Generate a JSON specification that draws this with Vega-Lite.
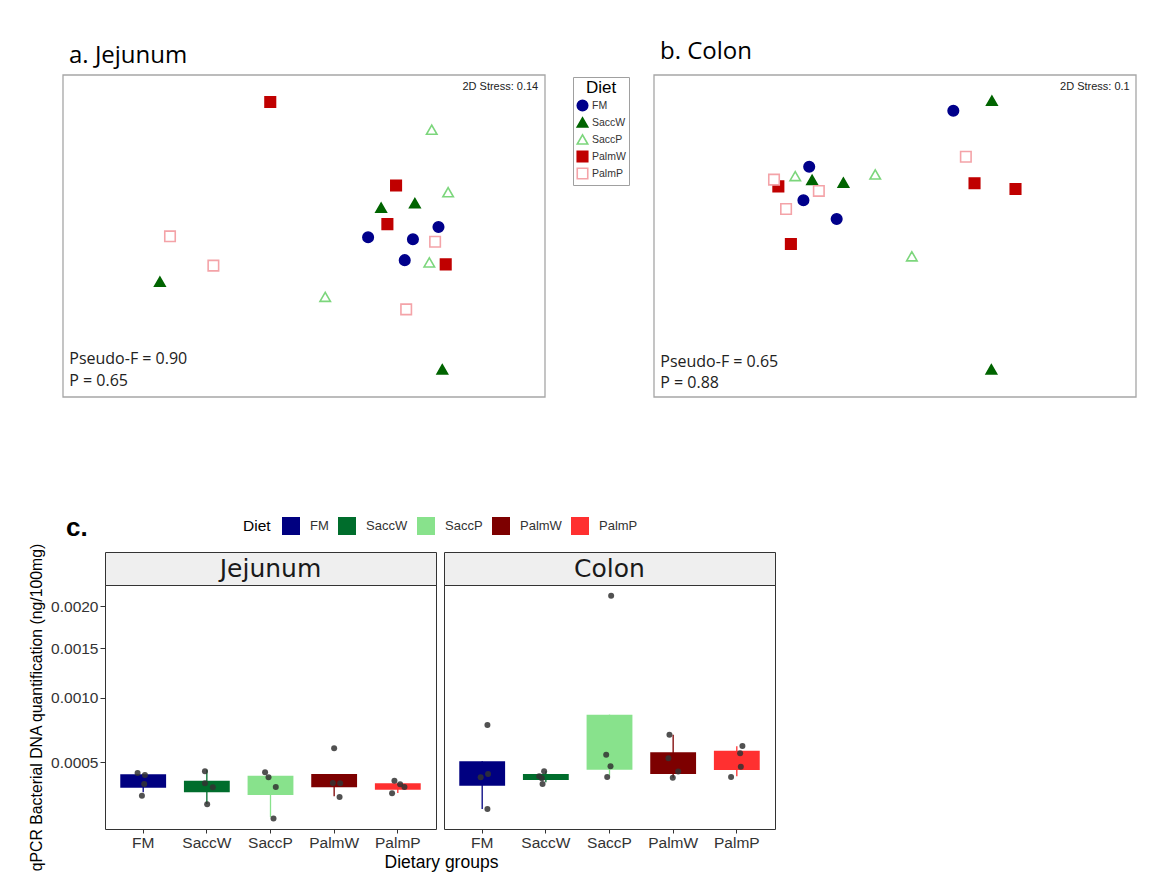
{
  "$schema": "https://vega.github.io/schema/vega-lite/v6.json",
  "background": "white",
  "padding": {"left": 28, "top": 40, "right": 5, "bottom": 5},
  "config": {"font": "Liberation Sans", "view": {"stroke": null}, "axis": {"grid": false}},
  "datasets": {
    "nmds": [
      {"tissue": "Jejunum", "Diet": "PalmW", "NMDS1": 0.430, "NMDS2": 0.916},
      {"tissue": "Jejunum", "Diet": "SaccP", "NMDS1": 0.765, "NMDS2": 0.830},
      {"tissue": "Jejunum", "Diet": "PalmW", "NMDS1": 0.691, "NMDS2": 0.657},
      {"tissue": "Jejunum", "Diet": "SaccP", "NMDS1": 0.799, "NMDS2": 0.636},
      {"tissue": "Jejunum", "Diet": "SaccW", "NMDS1": 0.660, "NMDS2": 0.588},
      {"tissue": "Jejunum", "Diet": "SaccW", "NMDS1": 0.730, "NMDS2": 0.602},
      {"tissue": "Jejunum", "Diet": "PalmW", "NMDS1": 0.673, "NMDS2": 0.537},
      {"tissue": "Jejunum", "Diet": "FM", "NMDS1": 0.779, "NMDS2": 0.528},
      {"tissue": "Jejunum", "Diet": "FM", "NMDS1": 0.633, "NMDS2": 0.496},
      {"tissue": "Jejunum", "Diet": "FM", "NMDS1": 0.726, "NMDS2": 0.490},
      {"tissue": "Jejunum", "Diet": "PalmP", "NMDS1": 0.772, "NMDS2": 0.482},
      {"tissue": "Jejunum", "Diet": "FM", "NMDS1": 0.709, "NMDS2": 0.425},
      {"tissue": "Jejunum", "Diet": "SaccP", "NMDS1": 0.760, "NMDS2": 0.418},
      {"tissue": "Jejunum", "Diet": "PalmW", "NMDS1": 0.794, "NMDS2": 0.412},
      {"tissue": "Jejunum", "Diet": "PalmP", "NMDS1": 0.222, "NMDS2": 0.499},
      {"tissue": "Jejunum", "Diet": "PalmP", "NMDS1": 0.312, "NMDS2": 0.408},
      {"tissue": "Jejunum", "Diet": "SaccW", "NMDS1": 0.201, "NMDS2": 0.358},
      {"tissue": "Jejunum", "Diet": "SaccP", "NMDS1": 0.544, "NMDS2": 0.311},
      {"tissue": "Jejunum", "Diet": "PalmP", "NMDS1": 0.712, "NMDS2": 0.272},
      {"tissue": "Jejunum", "Diet": "SaccW", "NMDS1": 0.787, "NMDS2": 0.086},
      {"tissue": "Colon", "Diet": "FM", "NMDS1": 0.621, "NMDS2": 0.889},
      {"tissue": "Colon", "Diet": "FM", "NMDS1": 0.322, "NMDS2": 0.715},
      {"tissue": "Colon", "Diet": "FM", "NMDS1": 0.310, "NMDS2": 0.611},
      {"tissue": "Colon", "Diet": "FM", "NMDS1": 0.379, "NMDS2": 0.553},
      {"tissue": "Colon", "Diet": "SaccW", "NMDS1": 0.701, "NMDS2": 0.920},
      {"tissue": "Colon", "Diet": "SaccW", "NMDS1": 0.328, "NMDS2": 0.674},
      {"tissue": "Colon", "Diet": "SaccW", "NMDS1": 0.393, "NMDS2": 0.666},
      {"tissue": "Colon", "Diet": "SaccW", "NMDS1": 0.700, "NMDS2": 0.086},
      {"tissue": "Colon", "Diet": "SaccP", "NMDS1": 0.293, "NMDS2": 0.686},
      {"tissue": "Colon", "Diet": "SaccP", "NMDS1": 0.459, "NMDS2": 0.691},
      {"tissue": "Colon", "Diet": "SaccP", "NMDS1": 0.535, "NMDS2": 0.437},
      {"tissue": "Colon", "Diet": "PalmW", "NMDS1": 0.258, "NMDS2": 0.654},
      {"tissue": "Colon", "Diet": "PalmW", "NMDS1": 0.665, "NMDS2": 0.664},
      {"tissue": "Colon", "Diet": "PalmW", "NMDS1": 0.750, "NMDS2": 0.646},
      {"tissue": "Colon", "Diet": "PalmW", "NMDS1": 0.284, "NMDS2": 0.475},
      {"tissue": "Colon", "Diet": "PalmP", "NMDS1": 0.249, "NMDS2": 0.675},
      {"tissue": "Colon", "Diet": "PalmP", "NMDS1": 0.342, "NMDS2": 0.640},
      {"tissue": "Colon", "Diet": "PalmP", "NMDS1": 0.274, "NMDS2": 0.584},
      {"tissue": "Colon", "Diet": "PalmP", "NMDS1": 0.647, "NMDS2": 0.746}
    ],
    "nmdsStats": [
      {"tissue": "Jejunum", "stress": "2D Stress: 0.14", "pseudoF": "Pseudo-F = 0.90", "p": "P = 0.65"},
      {"tissue": "Colon", "stress": "2D Stress: 0.1", "pseudoF": "Pseudo-F = 0.65", "p": "P = 0.88"}
    ],
    "boxes": [
      {"tissue": "Jejunum", "Diet": "FM", "lower": 0.000326, "q1": 0.000350, "q3": 0.000426, "upper": 0.000426},
      {"tissue": "Jejunum", "Diet": "SaccW", "lower": 0.000268, "q1": 0.000326, "q3": 0.000389, "upper": 0.000454},
      {"tissue": "Jejunum", "Diet": "SaccP", "lower": 0.000210, "q1": 0.000312, "q3": 0.000418, "upper": 0.000418},
      {"tissue": "Jejunum", "Diet": "PalmW", "lower": 0.000306, "q1": 0.000353, "q3": 0.000428, "upper": 0.000428},
      {"tissue": "Jejunum", "Diet": "PalmP", "lower": 0.000323, "q1": 0.000340, "q3": 0.000374, "upper": 0.000374},
      {"tissue": "Colon", "Diet": "FM", "lower": 0.000245, "q1": 0.000361, "q3": 0.000506, "upper": 0.000506},
      {"tissue": "Colon", "Diet": "SaccW", "lower": 0.000380, "q1": 0.000393, "q3": 0.000428, "upper": 0.000444},
      {"tissue": "Colon", "Diet": "SaccP", "lower": 0.000418, "q1": 0.000454, "q3": 0.000852, "upper": 0.000852},
      {"tissue": "Colon", "Diet": "PalmW", "lower": 0.000406, "q1": 0.000428, "q3": 0.000566, "upper": 0.000693},
      {"tissue": "Colon", "Diet": "PalmP", "lower": 0.000414, "q1": 0.000452, "q3": 0.000577, "upper": 0.000608}
    ],
    "qpcr": [
      {"tissue": "Jejunum", "Diet": "FM", "value": 0.000434, "jitter": -0.088},
      {"tissue": "Jejunum", "Diet": "FM", "value": 0.000422, "jitter": 0.027},
      {"tissue": "Jejunum", "Diet": "FM", "value": 0.000371, "jitter": 0.016},
      {"tissue": "Jejunum", "Diet": "FM", "value": 0.000309, "jitter": -0.020},
      {"tissue": "Jejunum", "Diet": "SaccW", "value": 0.000444, "jitter": -0.030},
      {"tissue": "Jejunum", "Diet": "SaccW", "value": 0.000374, "jitter": -0.030},
      {"tissue": "Jejunum", "Diet": "SaccW", "value": 0.000353, "jitter": 0.094},
      {"tissue": "Jejunum", "Diet": "SaccW", "value": 0.000267, "jitter": 0.005},
      {"tissue": "Jejunum", "Diet": "SaccP", "value": 0.000438, "jitter": -0.085},
      {"tissue": "Jejunum", "Diet": "SaccP", "value": 0.000408, "jitter": -0.031},
      {"tissue": "Jejunum", "Diet": "SaccP", "value": 0.000354, "jitter": 0.083},
      {"tissue": "Jejunum", "Diet": "SaccP", "value": 0.000205, "jitter": 0.047},
      {"tissue": "Jejunum", "Diet": "PalmW", "value": 0.000594, "jitter": 0.000},
      {"tissue": "Jejunum", "Diet": "PalmW", "value": 0.000376, "jitter": -0.020},
      {"tissue": "Jejunum", "Diet": "PalmW", "value": 0.000374, "jitter": 0.094},
      {"tissue": "Jejunum", "Diet": "PalmW", "value": 0.000302, "jitter": 0.085},
      {"tissue": "Jejunum", "Diet": "PalmP", "value": 0.000389, "jitter": -0.053},
      {"tissue": "Jejunum", "Diet": "PalmP", "value": 0.000369, "jitter": 0.036},
      {"tissue": "Jejunum", "Diet": "PalmP", "value": 0.000354, "jitter": 0.104},
      {"tissue": "Jejunum", "Diet": "PalmP", "value": 0.000321, "jitter": -0.090},
      {"tissue": "Colon", "Diet": "FM", "value": 0.000768, "jitter": 0.082},
      {"tissue": "Colon", "Diet": "FM", "value": 0.000408, "jitter": -0.024},
      {"tissue": "Colon", "Diet": "FM", "value": 0.000428, "jitter": 0.092},
      {"tissue": "Colon", "Diet": "FM", "value": 0.000245, "jitter": 0.082},
      {"tissue": "Colon", "Diet": "SaccW", "value": 0.000444, "jitter": -0.027},
      {"tissue": "Colon", "Diet": "SaccW", "value": 0.000414, "jitter": -0.105},
      {"tissue": "Colon", "Diet": "SaccW", "value": 0.000403, "jitter": -0.063},
      {"tissue": "Colon", "Diet": "SaccW", "value": 0.000371, "jitter": -0.052},
      {"tissue": "Colon", "Diet": "SaccP", "value": 0.002138, "jitter": 0.026},
      {"tissue": "Colon", "Diet": "SaccP", "value": 0.000550, "jitter": -0.052},
      {"tissue": "Colon", "Diet": "SaccP", "value": 0.000475, "jitter": 0.016},
      {"tissue": "Colon", "Diet": "SaccP", "value": 0.000410, "jitter": -0.036},
      {"tissue": "Colon", "Diet": "PalmW", "value": 0.000693, "jitter": -0.058},
      {"tissue": "Colon", "Diet": "PalmW", "value": 0.000526, "jitter": -0.074},
      {"tissue": "Colon", "Diet": "PalmW", "value": 0.000442, "jitter": 0.079},
      {"tissue": "Colon", "Diet": "PalmW", "value": 0.000406, "jitter": -0.006},
      {"tissue": "Colon", "Diet": "PalmP", "value": 0.000610, "jitter": 0.088},
      {"tissue": "Colon", "Diet": "PalmP", "value": 0.000559, "jitter": 0.052},
      {"tissue": "Colon", "Diet": "PalmP", "value": 0.000472, "jitter": 0.063},
      {"tissue": "Colon", "Diet": "PalmP", "value": 0.000410, "jitter": -0.090}
    ],
    "tissues": [{"tissue": "Jejunum"}, {"tissue": "Colon"}]
  },
  "resolve": {
    "scale": {"color": "independent", "fill": "independent", "stroke": "independent", "shape": "independent"},
    "legend": {"color": "independent", "fill": "independent", "stroke": "independent", "shape": "independent"}
  },
  "spacing": 116,
  "vconcat": [
    {
      "hconcat": [
        {
          "width": 440,
          "height": 322,
          "title": {"text": "a. Jejunum", "anchor": "start", "frame": "group", "font": "Open Sans", "fontSize": 24, "fontWeight": "normal", "color": "#000000", "dx": -36, "dy": 26, "offset": 8, "baseline": "bottom"},
          "layer": [
            {
              "data": {"name": "nmdsStats"},
              "transform": [{"filter": "datum.tissue == 'Jejunum'"}],
              "mark": {"type": "rect", "fill": "transparent", "stroke": "#a6a6a6", "strokeWidth": 1.3},
              "encoding": {
                "x": {"datum": 0, "type": "quantitative", "scale": {"domain": [0, 1], "range": [-42, 440], "nice": false, "zero": false}, "axis": null},
                "x2": {"datum": 1},
                "y": {"datum": 0, "type": "quantitative", "scale": {"domain": [0, 1], "nice": false, "zero": false}, "axis": null},
                "y2": {"datum": 1}
              }
            },
            {
              "data": {"name": "nmds"},
              "transform": [{"filter": "datum.tissue == 'Jejunum'"}],
              "mark": {"type": "point", "filled": true, "size": 110, "strokeWidth": 1.6, "opacity": 1},
              "encoding": {
                "x": {"field": "NMDS1", "type": "quantitative", "scale": {"domain": [0, 1], "range": [-42, 440], "nice": false, "zero": false}, "axis": null},
                "y": {"field": "NMDS2", "type": "quantitative", "scale": {"domain": [0, 1], "nice": false, "zero": false}, "axis": null},
                "shape": {"field": "Diet", "type": "nominal", "scale": {"domain": ["FM", "SaccW", "SaccP", "PalmW", "PalmP"], "range": ["circle", "triangle-up", "triangle-up", "square", "square"]},
                  "legend": {"title": "Diet", "orient": "none", "legendX": 468, "legendY": 2, "strokeColor": "#a0a0a0", "fillColor": "#ffffff", "padding": 3, "titleFont": "Liberation Sans", "titleFontSize": 17, "titleFontWeight": "normal", "titleColor": "#000000", "titleAnchor": "middle", "titlePadding": 2, "labelFont": "Liberation Sans", "labelFontSize": 10.5, "labelColor": "#333333", "labelOffset": 3, "symbolSize": 110, "symbolStrokeWidth": 1.6, "rowPadding": 0}},
                "fill": {"field": "Diet", "type": "nominal", "scale": {"domain": ["FM", "SaccW", "SaccP", "PalmW", "PalmP"], "range": ["#00008B", "#006400", "#ffffff", "#C00000", "#ffffff"]},
                  "legend": {"title": "Diet", "orient": "none", "legendX": 468, "legendY": 2, "strokeColor": "#a0a0a0", "fillColor": "#ffffff", "padding": 3, "titleFont": "Liberation Sans", "titleFontSize": 17, "titleFontWeight": "normal", "titleColor": "#000000", "titleAnchor": "middle", "titlePadding": 2, "labelFont": "Liberation Sans", "labelFontSize": 10.5, "labelColor": "#333333", "labelOffset": 3, "symbolSize": 110, "symbolStrokeWidth": 1.6, "rowPadding": 0}},
                "stroke": {"field": "Diet", "type": "nominal", "scale": {"domain": ["FM", "SaccW", "SaccP", "PalmW", "PalmP"], "range": ["#00008B", "#006400", "#7CD67C", "#C00000", "#F4A3A8"]},
                  "legend": {"title": "Diet", "orient": "none", "legendX": 468, "legendY": 2, "strokeColor": "#a0a0a0", "fillColor": "#ffffff", "padding": 3, "titleFont": "Liberation Sans", "titleFontSize": 17, "titleFontWeight": "normal", "titleColor": "#000000", "titleAnchor": "middle", "titlePadding": 2, "labelFont": "Liberation Sans", "labelFontSize": 10.5, "labelColor": "#333333", "labelOffset": 3, "symbolSize": 110, "symbolStrokeWidth": 1.6, "rowPadding": 0}}
              }
            },
            {
              "data": {"name": "nmdsStats"},
              "transform": [{"filter": "datum.tissue == 'Jejunum'"}],
              "mark": {"type": "text", "align": "right", "baseline": "middle", "font": "Liberation Sans", "fontSize": 11, "color": "#222222"},
              "encoding": {"x": {"datum": 0.986, "type": "quantitative"}, "y": {"datum": 0.964, "type": "quantitative"}, "text": {"field": "stress"}}
            },
            {
              "data": {"name": "nmdsStats"},
              "transform": [{"filter": "datum.tissue == 'Jejunum'"}],
              "mark": {"type": "text", "align": "left", "baseline": "middle", "font": "Open Sans", "fontSize": 16, "color": "#222222"},
              "encoding": {"x": {"datum": 0.013, "type": "quantitative"}, "y": {"datum": 0.117, "type": "quantitative"}, "text": {"field": "pseudoF"}}
            },
            {
              "data": {"name": "nmdsStats"},
              "transform": [{"filter": "datum.tissue == 'Jejunum'"}],
              "mark": {"type": "text", "align": "left", "baseline": "middle", "font": "Open Sans", "fontSize": 16, "color": "#222222"},
              "encoding": {"x": {"datum": 0.013, "type": "quantitative"}, "y": {"datum": 0.050, "type": "quantitative"}, "text": {"field": "p"}}
            }
          ]
        },
        {
          "width": 482,
          "height": 322,
          "title": {"text": "b. Colon", "anchor": "start", "frame": "group", "font": "Open Sans", "fontSize": 24, "fontWeight": "normal", "color": "#000000", "dx": 6, "dy": 26, "offset": 12, "baseline": "bottom"},
          "layer": [
            {
              "data": {"name": "nmdsStats"},
              "transform": [{"filter": "datum.tissue == 'Colon'"}],
              "mark": {"type": "rect", "fill": "transparent", "stroke": "#a6a6a6", "strokeWidth": 1.3},
              "encoding": {
                "x": {"datum": 0, "type": "quantitative", "scale": {"domain": [0, 1], "nice": false, "zero": false}, "axis": null},
                "x2": {"datum": 1},
                "y": {"datum": 0, "type": "quantitative", "scale": {"domain": [0, 1], "nice": false, "zero": false}, "axis": null},
                "y2": {"datum": 1}
              }
            },
            {
              "data": {"name": "nmds"},
              "transform": [{"filter": "datum.tissue == 'Colon'"}],
              "mark": {"type": "point", "filled": true, "size": 110, "strokeWidth": 1.6, "opacity": 1},
              "encoding": {
                "x": {"field": "NMDS1", "type": "quantitative", "scale": {"domain": [0, 1], "nice": false, "zero": false}, "axis": null},
                "y": {"field": "NMDS2", "type": "quantitative", "scale": {"domain": [0, 1], "nice": false, "zero": false}, "axis": null},
                "shape": {"field": "Diet", "type": "nominal", "scale": {"domain": ["FM", "SaccW", "SaccP", "PalmW", "PalmP"], "range": ["circle", "triangle-up", "triangle-up", "square", "square"]}, "legend": null},
                "fill": {"field": "Diet", "type": "nominal", "scale": {"domain": ["FM", "SaccW", "SaccP", "PalmW", "PalmP"], "range": ["#00008B", "#006400", "#ffffff", "#C00000", "#ffffff"]}, "legend": null},
                "stroke": {"field": "Diet", "type": "nominal", "scale": {"domain": ["FM", "SaccW", "SaccP", "PalmW", "PalmP"], "range": ["#00008B", "#006400", "#7CD67C", "#C00000", "#F4A3A8"]}, "legend": null}
              }
            },
            {
              "data": {"name": "nmdsStats"},
              "transform": [{"filter": "datum.tissue == 'Colon'"}],
              "mark": {"type": "text", "align": "right", "baseline": "middle", "font": "Liberation Sans", "fontSize": 11, "color": "#222222"},
              "encoding": {"x": {"datum": 0.987, "type": "quantitative"}, "y": {"datum": 0.964, "type": "quantitative"}, "text": {"field": "stress"}}
            },
            {
              "data": {"name": "nmdsStats"},
              "transform": [{"filter": "datum.tissue == 'Colon'"}],
              "mark": {"type": "text", "align": "left", "baseline": "middle", "font": "Open Sans", "fontSize": 16, "color": "#222222"},
              "encoding": {"x": {"datum": 0.013, "type": "quantitative"}, "y": {"datum": 0.108, "type": "quantitative"}, "text": {"field": "pseudoF"}}
            },
            {
              "data": {"name": "nmdsStats"},
              "transform": [{"filter": "datum.tissue == 'Colon'"}],
              "mark": {"type": "text", "align": "left", "baseline": "middle", "font": "Open Sans", "fontSize": 16, "color": "#222222"},
              "encoding": {"x": {"datum": 0.013, "type": "quantitative"}, "y": {"datum": 0.043, "type": "quantitative"}, "text": {"field": "p"}}
            }
          ]
        }
      ],
      "spacing": 109,
      "bounds": "flush",
      "resolve": {
        "scale": {"x": "independent", "y": "independent", "fill": "independent", "stroke": "independent", "shape": "independent"},
        "legend": {"fill": "independent", "stroke": "independent", "shape": "independent"}
      }
    },
    {
      "concat": [
        {
          "width": 331,
          "height": 33,
          "view": {"fill": "#efefef", "stroke": "#333333", "strokeWidth": 1},
          "title": {"text": "c.", "anchor": "start", "frame": "group", "font": "Liberation Sans", "fontSize": 26, "fontWeight": "bold", "color": "#000000", "dx": -39, "dy": 27, "offset": 12, "baseline": "bottom"},
          "data": {"name": "tissues"},
          "transform": [{"filter": "datum.tissue == 'Jejunum'"}],
          "mark": {"type": "text", "font": "DejaVu Sans", "fontSize": 25, "color": "#1a1a1a", "align": "center", "baseline": "middle"},
          "encoding": {"text": {"field": "tissue"}}
        },
        {
          "width": 331,
          "height": 33,
          "view": {"fill": "#efefef", "stroke": "#333333", "strokeWidth": 1},
          "data": {"name": "tissues"},
          "transform": [{"filter": "datum.tissue == 'Colon'"}],
          "mark": {"type": "text", "font": "DejaVu Sans", "fontSize": 25, "color": "#1a1a1a", "align": "center", "baseline": "middle"},
          "encoding": {"text": {"field": "tissue"}}
        },
        {
          "width": 331,
          "height": 244,
          "view": {"stroke": "#333333", "strokeWidth": 1},
          "encoding": {
            "x": {"field": "Diet", "type": "nominal", "sort": ["FM", "SaccW", "SaccP", "PalmW", "PalmP"],
              "scale": {"domain": ["FM", "SaccW", "SaccP", "PalmW", "PalmP"], "paddingInner": 0, "paddingOuter": 0.1},
              "axis": {"title": "Dietary groups", "domain": false, "ticks": true, "tickSize": 4, "tickColor": "#333333", "labelAngle": 0, "labelFontSize": 15.5, "labelColor": "#333333", "labelPadding": 2, "titleFontSize": 17.5, "titleFontWeight": "normal", "titleColor": "#000000", "titleX": 336, "titleY": 38, "titleBaseline": "alphabetic", "titleAlign": "center"}}
          },
          "resolve": {"scale": {"xOffset": "independent"}},
          "layer": [
            {
              "data": {"name": "boxes"},
              "transform": [{"filter": "datum.tissue == 'Jejunum'"}],
              "mark": {"type": "rule", "strokeWidth": 1.3},
              "encoding": {
                "y": {"field": "lower", "type": "quantitative", "scale": {"type": "sqrt", "domain": [0.0001638, 0.002282], "nice": false, "zero": false},
                  "axis": {"title": "qPCR Bacterial DNA quantification (ng/100mg)", "values": [0.0005, 0.001, 0.0015, 0.002], "format": ".4f", "domain": false, "ticks": true, "tickSize": 5, "tickColor": "#333333", "labelFontSize": 15.5, "labelColor": "#333333", "labelPadding": 2, "titleFontSize": 15.8, "titleFontWeight": "normal", "titleColor": "#000000", "titlePadding": 6}},
                "y2": {"field": "upper"},
                "color": {"field": "Diet", "type": "nominal", "scale": {"domain": ["FM", "SaccW", "SaccP", "PalmW", "PalmP"], "range": ["#000080", "#006D2C", "#88E28C", "#7D0000", "#FF3030"]},
                  "legend": {"title": "Diet", "orient": "none", "legendX": 138, "legendY": -68, "direction": "horizontal", "titleOrient": "left", "titleFontSize": 15.5, "titleFontWeight": "normal", "titleColor": "#000000", "titlePadding": 11, "labelFontSize": 13, "labelColor": "#333333", "labelOffset": 10, "columnPadding": 9, "symbolType": "square", "symbolSize": 324, "symbolStrokeWidth": 0, "padding": 0}}
              }
            },
            {
              "data": {"name": "boxes"},
              "transform": [{"filter": "datum.tissue == 'Jejunum'"}],
              "mark": {"type": "bar", "width": {"band": 0.72}},
              "encoding": {
                "y": {"field": "q1", "type": "quantitative", "scale": {"type": "sqrt", "domain": [0.0001638, 0.002282], "nice": false, "zero": false},
                  "axis": {"title": "qPCR Bacterial DNA quantification (ng/100mg)", "values": [0.0005, 0.001, 0.0015, 0.002], "format": ".4f", "domain": false, "ticks": true, "tickSize": 5, "tickColor": "#333333", "labelFontSize": 15.5, "labelColor": "#333333", "labelPadding": 2, "titleFontSize": 15.8, "titleFontWeight": "normal", "titleColor": "#000000", "titlePadding": 6}},
                "y2": {"field": "q3"},
                "color": {"field": "Diet", "type": "nominal", "scale": {"domain": ["FM", "SaccW", "SaccP", "PalmW", "PalmP"], "range": ["#000080", "#006D2C", "#88E28C", "#7D0000", "#FF3030"]},
                  "legend": {"title": "Diet", "orient": "none", "legendX": 138, "legendY": -68, "direction": "horizontal", "titleOrient": "left", "titleFontSize": 15.5, "titleFontWeight": "normal", "titleColor": "#000000", "titlePadding": 11, "labelFontSize": 13, "labelColor": "#333333", "labelOffset": 10, "columnPadding": 9, "symbolType": "square", "symbolSize": 324, "symbolStrokeWidth": 0, "padding": 0}}
              }
            },
            {
              "data": {"name": "qpcr"},
              "transform": [{"filter": "datum.tissue == 'Jejunum'"}],
              "mark": {"type": "circle", "size": 36, "color": "#333333", "opacity": 0.85},
              "encoding": {
                "xOffset": {"field": "jitter", "type": "quantitative", "scale": {"domain": [-0.5, 0.5]}},
                "y": {"field": "value", "type": "quantitative", "scale": {"type": "sqrt", "domain": [0.0001638, 0.002282], "nice": false, "zero": false},
                  "axis": {"title": "qPCR Bacterial DNA quantification (ng/100mg)", "values": [0.0005, 0.001, 0.0015, 0.002], "format": ".4f", "domain": false, "ticks": true, "tickSize": 5, "tickColor": "#333333", "labelFontSize": 15.5, "labelColor": "#333333", "labelPadding": 2, "titleFontSize": 15.8, "titleFontWeight": "normal", "titleColor": "#000000", "titlePadding": 6}}
              }
            }
          ]
        },
        {
          "width": 331,
          "height": 244,
          "view": {"stroke": "#333333", "strokeWidth": 1},
          "encoding": {
            "x": {"field": "Diet", "type": "nominal", "sort": ["FM", "SaccW", "SaccP", "PalmW", "PalmP"],
              "scale": {"domain": ["FM", "SaccW", "SaccP", "PalmW", "PalmP"], "paddingInner": 0, "paddingOuter": 0.1},
              "axis": {"title": null, "domain": false, "ticks": true, "tickSize": 4, "tickColor": "#333333", "labelAngle": 0, "labelFontSize": 15.5, "labelColor": "#333333", "labelPadding": 2}}
          },
          "resolve": {"scale": {"xOffset": "independent"}},
          "layer": [
            {
              "data": {"name": "boxes"},
              "transform": [{"filter": "datum.tissue == 'Colon'"}],
              "mark": {"type": "rule", "strokeWidth": 1.3},
              "encoding": {
                "y": {"field": "lower", "type": "quantitative", "scale": {"type": "sqrt", "domain": [0.0001638, 0.002282], "nice": false, "zero": false}, "axis": null},
                "y2": {"field": "upper"},
                "color": {"field": "Diet", "type": "nominal", "scale": {"domain": ["FM", "SaccW", "SaccP", "PalmW", "PalmP"], "range": ["#000080", "#006D2C", "#88E28C", "#7D0000", "#FF3030"]}, "legend": null}
              }
            },
            {
              "data": {"name": "boxes"},
              "transform": [{"filter": "datum.tissue == 'Colon'"}],
              "mark": {"type": "bar", "width": {"band": 0.72}},
              "encoding": {
                "y": {"field": "q1", "type": "quantitative", "scale": {"type": "sqrt", "domain": [0.0001638, 0.002282], "nice": false, "zero": false}, "axis": null},
                "y2": {"field": "q3"},
                "color": {"field": "Diet", "type": "nominal", "scale": {"domain": ["FM", "SaccW", "SaccP", "PalmW", "PalmP"], "range": ["#000080", "#006D2C", "#88E28C", "#7D0000", "#FF3030"]}, "legend": null}
              }
            },
            {
              "data": {"name": "qpcr"},
              "transform": [{"filter": "datum.tissue == 'Colon'"}],
              "mark": {"type": "circle", "size": 36, "color": "#333333", "opacity": 0.85},
              "encoding": {
                "xOffset": {"field": "jitter", "type": "quantitative", "scale": {"domain": [-0.5, 0.5]}},
                "y": {"field": "value", "type": "quantitative", "scale": {"type": "sqrt", "domain": [0.0001638, 0.002282], "nice": false, "zero": false}, "axis": null}
              }
            }
          ]
        }
      ],
      "columns": 2,
      "spacing": {"row": 0, "column": 8},
      "bounds": "flush",
      "resolve": {
        "scale": {"color": "independent", "x": "independent", "y": "independent"},
        "legend": {"color": "independent"}
      }
    }
  ]
}
